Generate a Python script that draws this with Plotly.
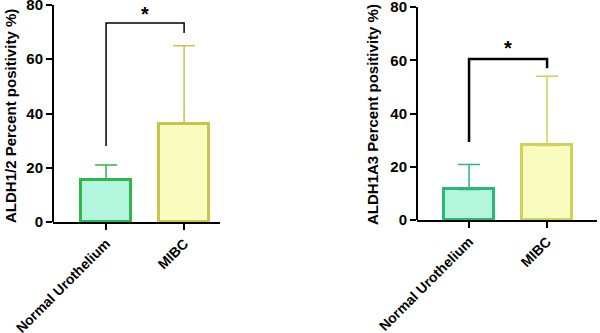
import plotly.graph_objects as go

categories = ["Normal Urothelium", "MIBC"]
aldh12_mean = [15.5, 36]
aldh12_sd = [5.5, 29]
aldh1a3_mean = [11.5, 28]
aldh1a3_sd = [9.3, 26]
y_ticks = [0, 20, 40, 60, 80]
# significance brackets: [left leg bottom, bracket top, right leg bottom]
bracket12 = [28, 73.4, 69.7]
bracket1a3 = [29.3, 60.5, 57]
star12_y = 76.5
star1a3_y = 64.5

fill_colors = ["#b3f5dd", "#f8fcbe"]
left_lines = ["#2db84a", "#c8c64a"]
right_lines = ["#2cb67c", "#d2d05a"]

FONT = dict(family="Liberation Sans, Arial, sans-serif", size=14, color="black", weight="bold")
FONT15 = dict(family="Liberation Sans, Arial, sans-serif", size=15, color="black", weight="bold")

fig = go.Figure()

def add_bars(means, sds, lines, xa, ya):
    for i, (m, s) in enumerate(zip(means, sds)):
        fig.add_trace(go.Bar(
            x=[i], y=[m], width=0.64,
            marker=dict(color=fill_colors[i], line=dict(color=lines[i], width=3)),
            error_y=dict(type="data", symmetric=False, array=[s], arrayminus=[0],
                         color=lines[i], thickness=1.5, width=11),
            xaxis=xa, yaxis=ya, showlegend=False, hoverinfo="skip"))

add_bars(aldh12_mean, aldh12_sd, left_lines, "x", "y")
add_bars(aldh1a3_mean, aldh1a3_sd, right_lines, "x2", "y2")

def bracket_path(b):
    return f"M 0 {b[0]} L 0 {b[1]} L 1 {b[1]} L 1 {b[2]}"

fig.add_shape(type="path", path=bracket_path(bracket12), xref="x", yref="y",
              line=dict(color="black", width=1.5))
fig.add_shape(type="path", path=bracket_path(bracket1a3), xref="x2", yref="y2",
              line=dict(color="black", width=2.5))

fig.add_annotation(x=0.5, y=star12_y, xref="x", yref="y", text="*", showarrow=False,
                   font=dict(family="Liberation Sans, Arial", size=20, color="black", weight="bold"))
fig.add_annotation(x=0.5, y=star1a3_y, xref="x2", yref="y2", text="*", showarrow=False,
                   font=dict(family="Liberation Sans, Arial", size=20, color="black", weight="bold"))

fig.add_annotation(x=10/600, y=(333-116)/333, xref="paper", yref="paper",
                   xanchor="center", yanchor="middle",
                   text="ALDH1/2 Percent positivity %)", textangle=-90, showarrow=False,
                   font=FONT15)
fig.add_annotation(x=372/600, y=(333-115)/333, xref="paper", yref="paper",
                   xanchor="center", yanchor="middle",
                   text="ALDH1A3 Percent positivity %)", textangle=-90, showarrow=False,
                   font=FONT15)

xcommon = dict(tickmode="array", tickvals=[0, 1], ticktext=categories, tickangle=-45,
               ticks="outside", ticklen=6, tickwidth=2, tickcolor="black",
               showline=True, linewidth=2, linecolor="black", showgrid=False,
               zeroline=False, tickfont=FONT, automargin=False, fixedrange=True,
               ticklabeloverflow="allow")
ycommon = dict(tickmode="array", tickvals=y_ticks,
               ticks="outside", ticklen=6, tickwidth=2, tickcolor="black",
               showline=False, showgrid=False,
               zeroline=False, tickfont=FONT15, automargin=False, fixedrange=True,
               ticklabeloverflow="allow")

fig.update_layout(
    width=600, height=333,
    margin=dict(l=0, r=0, t=0, b=0),
    paper_bgcolor="white", plot_bgcolor="white",
    xaxis=dict(domain=[53/600, 220/600], range=[-0.68, 1.46], anchor="y", **xcommon),
    yaxis=dict(domain=[(333-222)/333, 1], range=[0, 81.84], anchor="x", **ycommon),
    xaxis2=dict(domain=[417/600, 597/600], range=[-0.667, 1.64], anchor="y2", **xcommon),
    yaxis2=dict(domain=[(333-220)/333, 1], range=[0, 82.63], anchor="x2", **ycommon),
    bargap=0,
)

# y-axis lines from 0 to 80 (GraphPad style, ending at the top tick)
fig.add_shape(type="line", xref="x domain", yref="y", x0=0, x1=0, y0=0, y1=y_ticks[-1],
              line=dict(color="black", width=2))
fig.add_shape(type="line", xref="x2 domain", yref="y2", x0=0, x1=0, y0=0, y1=y_ticks[-1],
              line=dict(color="black", width=2))

fig.write_html("out.html")
